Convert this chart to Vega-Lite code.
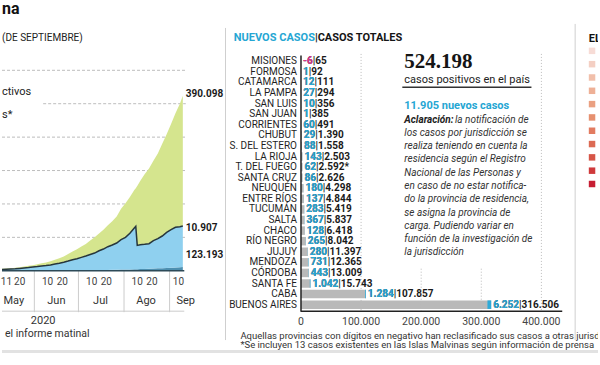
{
"$schema":"https://vega.github.io/schema/vega-lite/v6.json",
"width":600,"height":365,
"autosize":{"type":"fit","contains":"padding"},
"padding":0,
"background":"#ffffff",
"config":{"view":{"stroke":null},"text":{"font":"Roboto"}},
"datasets":{
"evolucion":[
{"fecha":"2020-05-10","fallecidos":305,"infectados":3795,"recuperados":1934},
{"fecha":"2020-05-13","fallecidos":329,"infectados":4271,"recuperados":2279},
{"fecha":"2020-05-16","fallecidos":356,"infectados":4844,"recuperados":2605},
{"fecha":"2020-05-19","fallecidos":382,"infectados":5518,"recuperados":2896},
{"fecha":"2020-05-22","fallecidos":416,"infectados":6584,"recuperados":3649},
{"fecha":"2020-05-25","fallecidos":467,"infectados":7833,"recuperados":4328},
{"fecha":"2020-05-28","fallecidos":500,"infectados":9000,"recuperados":5202},
{"fecha":"2020-05-31","fallecidos":528,"infectados":10472,"recuperados":5851},
{"fecha":"2020-06-03","fallecidos":583,"infectados":11917,"recuperados":6768},
{"fecha":"2020-06-06","fallecidos":664,"infectados":13836,"recuperados":8294},
{"fecha":"2020-06-09","fallecidos":717,"infectados":14783,"recuperados":9261},
{"fecha":"2020-06-12","fallecidos":785,"infectados":16715,"recuperados":11264},
{"fecha":"2020-06-15","fallecidos":854,"infectados":19146,"recuperados":12785},
{"fecha":"2020-06-18","fallecidos":913,"infectados":21587,"recuperados":15010},
{"fecha":"2020-06-21","fallecidos":1011,"infectados":24489,"recuperados":17285},
{"fecha":"2020-06-24","fallecidos":1116,"infectados":27884,"recuperados":20851},
{"fecha":"2020-06-27","fallecidos":1207,"infectados":31793,"recuperados":24744},
{"fecha":"2020-06-30","fallecidos":1307,"infectados":34693,"recuperados":28530},
{"fecha":"2020-07-03","fallecidos":1490,"infectados":38510,"recuperados":32786},
{"fecha":"2020-07-06","fallecidos":1600,"infectados":42400,"recuperados":36447},
{"fecha":"2020-07-09","fallecidos":1720,"infectados":46780,"recuperados":42193},
{"fecha":"2020-07-12","fallecidos":1859,"infectados":51141,"recuperados":47166},
{"fecha":"2020-07-15","fallecidos":2050,"infectados":57950,"recuperados":51160},
{"fecha":"2020-07-18","fallecidos":2246,"infectados":62754,"recuperados":57524},
{"fecha":"2020-07-21","fallecidos":2490,"infectados":69510,"recuperados":64118},
{"fecha":"2020-07-24","fallecidos":2702,"infectados":74298,"recuperados":71027},
{"fecha":"2020-07-27","fallecidos":2939,"infectados":80061,"recuperados":79526},
{"fecha":"2020-07-30","fallecidos":3441,"infectados":89559,"recuperados":92373},
{"fecha":"2020-08-02","fallecidos":3721,"infectados":96279,"recuperados":101919},
{"fecha":"2020-08-05","fallecidos":4106,"infectados":107894,"recuperados":108682},
{"fecha":"2020-08-08","fallecidos":4523,"infectados":123477,"recuperados":113811},
{"fecha":"2020-08-09","fallecidos":4606,"infectados":128394,"recuperados":114000},
{"fecha":"2020-08-10","fallecidos":4764,"infectados":71236,"recuperados":177868},
{"fecha":"2020-08-12","fallecidos":5213,"infectados":72787,"recuperados":190574},
{"fecha":"2020-08-15","fallecidos":5637,"infectados":73363,"recuperados":210100},
{"fecha":"2020-08-18","fallecidos":6048,"infectados":74952,"recuperados":224966},
{"fecha":"2020-08-21","fallecidos":6730,"infectados":83270,"recuperados":239043},
{"fecha":"2020-08-24","fallecidos":7366,"infectados":88634,"recuperados":254867},
{"fecha":"2020-08-27","fallecidos":7839,"infectados":96161,"recuperados":276292},
{"fecha":"2020-08-30","fallecidos":8457,"infectados":106543,"recuperados":293426},
{"fecha":"2020-09-02","fallecidos":9118,"infectados":113882,"recuperados":316172},
{"fecha":"2020-09-05","fallecidos":9739,"infectados":120261,"recuperados":341806},
{"fecha":"2020-09-08","fallecidos":10405,"infectados":121595,"recuperados":368034},
{"fecha":"2020-09-10","fallecidos":10907,"infectados":123193,"recuperados":390098}
],
"provincias":[
{"fila":0,"provincia":"MISIONES","nuevos":-6,"total":65,"previos":71,"nota":""},
{"fila":1,"provincia":"FORMOSA","nuevos":1,"total":92,"previos":91,"nota":""},
{"fila":2,"provincia":"CATAMARCA","nuevos":12,"total":111,"previos":99,"nota":""},
{"fila":3,"provincia":"LA PAMPA","nuevos":27,"total":294,"previos":267,"nota":""},
{"fila":4,"provincia":"SAN LUIS","nuevos":10,"total":356,"previos":346,"nota":""},
{"fila":5,"provincia":"SAN JUAN","nuevos":1,"total":385,"previos":384,"nota":""},
{"fila":6,"provincia":"CORRIENTES","nuevos":60,"total":491,"previos":431,"nota":""},
{"fila":7,"provincia":"CHUBUT","nuevos":29,"total":1390,"previos":1361,"nota":""},
{"fila":8,"provincia":"S. DEL ESTERO","nuevos":88,"total":1558,"previos":1470,"nota":""},
{"fila":9,"provincia":"LA RIOJA","nuevos":143,"total":2503,"previos":2360,"nota":""},
{"fila":10,"provincia":"T. DEL FUEGO","nuevos":62,"total":2592,"previos":2530,"nota":"*"},
{"fila":11,"provincia":"SANTA CRUZ","nuevos":86,"total":2626,"previos":2540,"nota":""},
{"fila":12,"provincia":"NEUQUÉN","nuevos":180,"total":4298,"previos":4118,"nota":""},
{"fila":13,"provincia":"ENTRE RÍOS","nuevos":137,"total":4844,"previos":4707,"nota":""},
{"fila":14,"provincia":"TUCUMÁN","nuevos":283,"total":5419,"previos":5136,"nota":""},
{"fila":15,"provincia":"SALTA","nuevos":367,"total":5837,"previos":5470,"nota":""},
{"fila":16,"provincia":"CHACO","nuevos":128,"total":6418,"previos":6290,"nota":""},
{"fila":17,"provincia":"RÍO NEGRO","nuevos":265,"total":8042,"previos":7777,"nota":""},
{"fila":18,"provincia":"JUJUY","nuevos":280,"total":11397,"previos":11117,"nota":""},
{"fila":19,"provincia":"MENDOZA","nuevos":731,"total":12365,"previos":11634,"nota":""},
{"fila":20,"provincia":"CÓRDOBA","nuevos":443,"total":13009,"previos":12566,"nota":""},
{"fila":21,"provincia":"SANTA FE","nuevos":1042,"total":15743,"previos":14701,"nota":""},
{"fila":22,"provincia":"CABA","nuevos":1284,"total":107857,"previos":106573,"nota":""},
{"fila":23,"provincia":"BUENOS AIRES","nuevos":6252,"total":316506,"previos":310254,"nota":""}
]
},
"resolve":{"scale":{"x":"independent","y":"independent","color":"independent"}},
"layer":[
{
"data":{"name":"evolucion"},
"layer":[
{"data":{"values":[{"v":100000},{"v":200000},{"v":300000},{"v":400000},{"v":600000}]},
 "mark":{"type":"rule","color":"#bdbdbd","strokeDash":[3,2],"strokeWidth":1},
 "encoding":{
  "x":{"datum":{"year":2020,"month":5,"date":10,"utc":true},"type":"temporal","scale":{"type":"utc","domain":[{"year":2020,"month":5,"date":10,"utc":true},{"year":2021,"month":6,"date":19,"hours":10,"utc":true}],"nice":false},"axis":null},
  "x2":{"datum":{"year":2020,"month":9,"date":12,"utc":true}},
  "y":{"field":"v","type":"quantitative","scale":{"domain":[-282090,807463],"nice":false,"zero":false},"axis":null}}},
{"data":{"values":[{"v":500000}]},
 "mark":{"type":"rule","color":"#bdbdbd","strokeDash":[3,2],"strokeWidth":1},
 "encoding":{
  "x":{"datum":{"year":2020,"month":6,"date":7,"utc":true},"type":"temporal","scale":{"type":"utc","domain":[{"year":2020,"month":5,"date":10,"utc":true},{"year":2021,"month":6,"date":19,"hours":10,"utc":true}],"nice":false},"axis":null},
  "x2":{"datum":{"year":2020,"month":9,"date":12,"utc":true}},
  "y":{"field":"v","type":"quantitative","scale":{"domain":[-282090,807463],"nice":false,"zero":false},"axis":null}}},
{"transform":[{"fold":["fallecidos","infectados","recuperados"],"as":["serie","casos"]}],
 "mark":{"type":"area","clip":true},
 "encoding":{
  "x":{"field":"fecha","type":"temporal","scale":{"type":"utc","domain":[{"year":2020,"month":5,"date":10,"utc":true},{"year":2021,"month":6,"date":19,"hours":10,"utc":true}],"nice":false},"axis":null},
  "y":{"field":"casos","type":"quantitative","stack":"zero","scale":{"domain":[-282090,807463],"nice":false,"zero":false},"axis":null},
  "color":{"field":"serie","type":"nominal","scale":{"domain":["fallecidos","infectados","recuperados"],"range":["#4d8fb0","#8fd0ef","#d5e58e"]},"legend":null},
  "order":{"field":"serie","sort":"ascending"}}},
{"transform":[{"fold":["fallecidos","infectados","recuperados"],"as":["serie","casos"]},{"filter":"datum.serie != 'recuperados'"},{"aggregate":[{"op":"sum","field":"casos","as":"tope"}],"groupby":["fecha"]}],
 "mark":{"type":"line","color":"#26363d","strokeWidth":1.5,"clip":true},
 "encoding":{
  "x":{"field":"fecha","type":"temporal","scale":{"type":"utc","domain":[{"year":2020,"month":5,"date":10,"utc":true},{"year":2021,"month":6,"date":19,"hours":10,"utc":true}],"nice":false},"axis":null},
  "y":{"field":"tope","type":"quantitative","scale":{"domain":[-282090,807463],"nice":false,"zero":false},"axis":null}}},
{"data":{"values":[{"fecha":"2020-06-01"},{"fecha":"2020-07-01"},{"fecha":"2020-08-01"},{"fecha":"2020-09-01"}]},
 "mark":{"type":"rule","color":"#cccccc","strokeWidth":1},
 "encoding":{
  "x":{"field":"fecha","type":"temporal","scale":{"type":"utc","domain":[{"year":2020,"month":5,"date":10,"utc":true},{"year":2021,"month":6,"date":19,"hours":10,"utc":true}],"nice":false},"axis":null},
  "y":{"datum":0,"type":"quantitative","scale":{"domain":[-282090,807463],"nice":false,"zero":false},"axis":null},
  "y2":{"datum":-124000}}},
{"data":{"values":[{"v":0}]},
 "mark":{"type":"rule","color":"#2d4a58","strokeWidth":1.5},
 "encoding":{
  "x":{"datum":{"year":2020,"month":5,"date":10,"utc":true},"type":"temporal","scale":{"type":"utc","domain":[{"year":2020,"month":5,"date":10,"utc":true},{"year":2021,"month":6,"date":19,"hours":10,"utc":true}],"nice":false},"axis":null},
  "x2":{"datum":{"year":2020,"month":9,"date":11,"utc":true}},
  "y":{"field":"v","type":"quantitative","scale":{"domain":[-282090,807463],"nice":false,"zero":false},"axis":null}}},
{"data":{"values":[{"v":-121000}]},
 "mark":{"type":"rule","color":"#cccccc","strokeWidth":1},
 "encoding":{
  "x":{"datum":{"year":2020,"month":5,"date":10,"utc":true},"type":"temporal","scale":{"type":"utc","domain":[{"year":2020,"month":5,"date":10,"utc":true},{"year":2021,"month":6,"date":19,"hours":10,"utc":true}],"nice":false},"axis":null},
  "x2":{"datum":{"year":2020,"month":9,"date":11,"utc":true}},
  "y":{"field":"v","type":"quantitative","scale":{"domain":[-282090,807463],"nice":false,"zero":false},"axis":null}}},
{"data":{"values":[{"fecha":"2020-05-13","t":"11"},{"fecha":"2020-05-22","t":"20"},{"fecha":"2020-06-10","t":"10"},{"fecha":"2020-06-20","t":"20"},{"fecha":"2020-07-10","t":"10"},{"fecha":"2020-07-20","t":"20"},{"fecha":"2020-08-10","t":"10"},{"fecha":"2020-08-20","t":"20"},{"fecha":"2020-09-07","t":"10"}]},
 "mark":{"type":"text","fontSize":10,"color":"#444444"},
 "encoding":{
  "x":{"field":"fecha","type":"temporal","scale":{"type":"utc","domain":[{"year":2020,"month":5,"date":10,"utc":true},{"year":2021,"month":6,"date":19,"hours":10,"utc":true}],"nice":false},"axis":null},
  "y":{"datum":-32836,"type":"quantitative","scale":{"domain":[-282090,807463],"nice":false,"zero":false},"axis":null},
  "text":{"field":"t"}}},
{"data":{"values":[{"fecha":"2020-05-18","t":"May"},{"fecha":"2020-06-16","t":"Jun"},{"fecha":"2020-07-16","t":"Jul"},{"fecha":"2020-08-16","t":"Ago"},{"fecha":"2020-09-12","t":"Sep"}]},
 "mark":{"type":"text","fontSize":11,"color":"#333333"},
 "encoding":{
  "x":{"field":"fecha","type":"temporal","scale":{"type":"utc","domain":[{"year":2020,"month":5,"date":10,"utc":true},{"year":2021,"month":6,"date":19,"hours":10,"utc":true}],"nice":false},"axis":null},
  "y":{"datum":-89552,"type":"quantitative","scale":{"domain":[-282090,807463],"nice":false,"zero":false},"axis":null},
  "text":{"field":"t"}}},
{"data":{"values":[{"t":"2020"}]},
 "mark":{"type":"text","fontSize":11,"color":"#333333"},
 "encoding":{
  "x":{"datum":{"year":2020,"month":6,"date":7,"utc":true},"type":"temporal","scale":{"type":"utc","domain":[{"year":2020,"month":5,"date":10,"utc":true},{"year":2021,"month":6,"date":19,"hours":10,"utc":true}],"nice":false},"axis":null},
  "y":{"datum":-150746,"type":"quantitative","scale":{"domain":[-282090,807463],"nice":false,"zero":false},"axis":null},
  "text":{"field":"t"}}},
{"data":{"values":[{"t":"el informe matinal"}]},
 "mark":{"type":"text","fontSize":10.5,"color":"#333333","align":"left"},
 "encoding":{
  "x":{"datum":{"year":2020,"month":5,"date":12,"utc":true},"type":"temporal","scale":{"type":"utc","domain":[{"year":2020,"month":5,"date":10,"utc":true},{"year":2021,"month":6,"date":19,"hours":10,"utc":true}],"nice":false},"axis":null},
  "y":{"datum":-189552,"type":"quantitative","scale":{"domain":[-282090,807463],"nice":false,"zero":false},"axis":null},
  "text":{"field":"t"}}},
{"data":{"values":[{"t":"na"}]},
 "mark":{"type":"text","fontSize":16,"fontWeight":"bold","color":"#111111","align":"left","baseline":"alphabetic"},
 "encoding":{
  "x":{"datum":{"year":2020,"month":5,"date":10,"utc":true},"type":"temporal","scale":{"type":"utc","domain":[{"year":2020,"month":5,"date":10,"utc":true},{"year":2021,"month":6,"date":19,"hours":10,"utc":true}],"nice":false},"axis":null},
  "y":{"datum":768700,"type":"quantitative","scale":{"domain":[-282090,807463],"nice":false,"zero":false},"axis":null},
  "text":{"field":"t"}}},
{"data":{"values":[{"t":"(DE SEPTIEMBRE)"}]},
 "mark":{"type":"text","fontSize":10,"color":"#222222","align":"left","baseline":"alphabetic"},
 "encoding":{
  "x":{"datum":{"year":2020,"month":5,"date":10,"utc":true},"type":"temporal","scale":{"type":"utc","domain":[{"year":2020,"month":5,"date":10,"utc":true},{"year":2021,"month":6,"date":19,"hours":10,"utc":true}],"nice":false},"axis":null},
  "y":{"datum":688060,"type":"quantitative","scale":{"domain":[-282090,807463],"nice":false,"zero":false},"axis":null},
  "text":{"field":"t"}}},
{"data":{"values":[{"t":"ctivos"}]},
 "mark":{"type":"text","fontSize":11,"color":"#222222","align":"left","baseline":"alphabetic"},
 "encoding":{
  "x":{"datum":{"year":2020,"month":5,"date":10,"utc":true},"type":"temporal","scale":{"type":"utc","domain":[{"year":2020,"month":5,"date":10,"utc":true},{"year":2021,"month":6,"date":19,"hours":10,"utc":true}],"nice":false},"axis":null},
  "y":{"datum":526866,"type":"quantitative","scale":{"domain":[-282090,807463],"nice":false,"zero":false},"axis":null},
  "text":{"field":"t"}}},
{"data":{"values":[{"t":"s*"}]},
 "mark":{"type":"text","fontSize":11,"color":"#222222","align":"left","baseline":"alphabetic"},
 "encoding":{
  "x":{"datum":{"year":2020,"month":5,"date":10,"utc":true},"type":"temporal","scale":{"type":"utc","domain":[{"year":2020,"month":5,"date":10,"utc":true},{"year":2021,"month":6,"date":19,"hours":10,"utc":true}],"nice":false},"axis":null},
  "y":{"datum":458209,"type":"quantitative","scale":{"domain":[-282090,807463],"nice":false,"zero":false},"axis":null},
  "text":{"field":"t"}}},
{"data":{"values":[{"t":"390.098"}]},
 "mark":{"type":"text","fontSize":10,"fontWeight":"bold","color":"#1a1a1a","align":"left","dx":3},
 "encoding":{
  "x":{"datum":{"year":2020,"month":9,"date":10,"utc":true},"type":"temporal","scale":{"type":"utc","domain":[{"year":2020,"month":5,"date":10,"utc":true},{"year":2021,"month":6,"date":19,"hours":10,"utc":true}],"nice":false},"axis":null},
  "y":{"datum":530000,"type":"quantitative","scale":{"domain":[-282090,807463],"nice":false,"zero":false},"axis":null},
  "text":{"field":"t"}}},
{"data":{"values":[{"t":"10.907"}]},
 "mark":{"type":"text","fontSize":10,"fontWeight":"bold","color":"#1a1a1a","align":"left","dx":3},
 "encoding":{
  "x":{"datum":{"year":2020,"month":9,"date":10,"utc":true},"type":"temporal","scale":{"type":"utc","domain":[{"year":2020,"month":5,"date":10,"utc":true},{"year":2021,"month":6,"date":19,"hours":10,"utc":true}],"nice":false},"axis":null},
  "y":{"datum":127000,"type":"quantitative","scale":{"domain":[-282090,807463],"nice":false,"zero":false},"axis":null},
  "text":{"field":"t"}}},
{"data":{"values":[{"t":"123.193"}]},
 "mark":{"type":"text","fontSize":10,"fontWeight":"bold","color":"#1a1a1a","align":"left","dx":3},
 "encoding":{
  "x":{"datum":{"year":2020,"month":9,"date":10,"utc":true},"type":"temporal","scale":{"type":"utc","domain":[{"year":2020,"month":5,"date":10,"utc":true},{"year":2021,"month":6,"date":19,"hours":10,"utc":true}],"nice":false},"axis":null},
  "y":{"datum":46000,"type":"quantitative","scale":{"domain":[-282090,807463],"nice":false,"zero":false},"axis":null},
  "text":{"field":"t"}}}
]
},
{
"data":{"name":"provincias"},
"layer":[
{"mark":{"type":"rule","color":"#b9b9b9","strokeWidth":8.5,"strokeCap":"butt"},
 "encoding":{
  "y":{"field":"fila","type":"quantitative","scale":{"domain":[-5.702,28.703],"reverse":true,"nice":false,"zero":false},"axis":null},
  "x":{"field":"total","type":"quantitative","scale":{"domain":[-497521,494215],"nice":false,"zero":false},"axis":null},
  "x2":{"datum":0}}},
{"mark":{"type":"rule","color":"#2eaad8","strokeWidth":8.5,"strokeCap":"butt"},
 "encoding":{
  "y":{"field":"fila","type":"quantitative","scale":{"domain":[-5.702,28.703],"reverse":true,"nice":false,"zero":false},"axis":null},
  "x":{"field":"previos","type":"quantitative","scale":{"domain":[-497521,494215],"nice":false,"zero":false},"axis":null},
  "x2":{"field":"total"}}},
{"mark":{"type":"text","align":"right","dx":-4,"font":"Liberation Sans Narrow, Roboto","fontSize":10,"color":"#1e1e1e"},
 "encoding":{
  "y":{"field":"fila","type":"quantitative","scale":{"domain":[-5.702,28.703],"reverse":true,"nice":false,"zero":false},"axis":null},
  "x":{"datum":0,"type":"quantitative","scale":{"domain":[-497521,494215],"nice":false,"zero":false},"axis":null},
  "text":{"field":"provincia"}}},
{"transform":[
  {"calculate":"abs(datum.nuevos) >= 1000 ? replace(format(datum.nuevos, ','), ',', '.') : '' + datum.nuevos","as":"txt_nuevos"},
  {"calculate":"(datum.total >= 1000 ? replace(format(datum.total, ','), ',', '.') : '' + datum.total) + datum.nota","as":"txt_total"},
  {"calculate":"datum.txt_nuevos + '|' + datum.txt_total","as":"etiqueta"}],
 "mark":{"type":"text","align":"left","dx":2,"fontWeight":"bold","fontSize":10,"color":"#1a1a1a"},
 "encoding":{
  "y":{"field":"fila","type":"quantitative","scale":{"domain":[-5.702,28.703],"reverse":true,"nice":false,"zero":false},"axis":null},
  "x":{"field":"total","type":"quantitative","scale":{"domain":[-497521,494215],"nice":false,"zero":false},"axis":null},
  "text":{"field":"etiqueta"}}},
{"transform":[
  {"calculate":"abs(datum.nuevos) >= 1000 ? replace(format(datum.nuevos, ','), ',', '.') : '' + datum.nuevos","as":"txt_nuevos"}],
 "mark":{"type":"text","align":"left","dx":2,"fontWeight":"bold","fontSize":10},
 "encoding":{
  "y":{"field":"fila","type":"quantitative","scale":{"domain":[-5.702,28.703],"reverse":true,"nice":false,"zero":false},"axis":null},
  "x":{"field":"total","type":"quantitative","scale":{"domain":[-497521,494215],"nice":false,"zero":false},"axis":null},
  "text":{"field":"txt_nuevos"},
  "color":{"condition":{"test":"datum.nuevos < 0","value":"#d9348f"},"value":"#2aa7d4"}}}
]
},
{
"data":{"values":[{"t":""}]},
"layer":[
{"data":{"values":[{"v":100000},{"v":400000}]},
 "mark":{"type":"rule","color":"#bbbbbb","strokeDash":[1,2],"strokeWidth":1},
 "encoding":{
  "x":{"field":"v","type":"quantitative","scale":{"domain":[-497521,494215],"nice":false,"zero":false},"axis":null},
  "y":{"datum":-0.7,"type":"quantitative","scale":{"domain":[-5.702,28.703],"reverse":true,"nice":false,"zero":false},"axis":null},
  "y2":{"datum":23.6}}},
{"data":{"values":[{"v":200000},{"v":300000}]},
 "mark":{"type":"rule","color":"#bbbbbb","strokeDash":[1,2],"strokeWidth":1},
 "encoding":{
  "x":{"field":"v","type":"quantitative","scale":{"domain":[-497521,494215],"nice":false,"zero":false},"axis":null},
  "y":{"datum":19.6,"type":"quantitative","scale":{"domain":[-5.702,28.703],"reverse":true,"nice":false,"zero":false},"axis":null},
  "y2":{"datum":23.6}}},
{"mark":{"type":"rule","color":"#222222","strokeWidth":1.5},
 "encoding":{
  "x":{"datum":0,"type":"quantitative","scale":{"domain":[-497521,494215],"nice":false,"zero":false},"axis":null},
  "y":{"datum":-0.55,"type":"quantitative","scale":{"domain":[-5.702,28.703],"reverse":true,"nice":false,"zero":false},"axis":null},
  "y2":{"datum":23.66}}},
{"mark":{"type":"rule","color":"#222222","strokeWidth":1.5},
 "encoding":{
  "x":{"datum":0,"type":"quantitative","scale":{"domain":[-497521,494215],"nice":false,"zero":false},"axis":null},
  "x2":{"datum":434700},
  "y":{"datum":23.62,"type":"quantitative","scale":{"domain":[-5.702,28.703],"reverse":true,"nice":false,"zero":false},"axis":null}}},
{"data":{"values":[{"v":0,"l":"0"},{"v":100000,"l":"100.000"},{"v":200000,"l":"200.000"},{"v":300000,"l":"300.000"},{"v":400000,"l":"400.000"}]},
 "mark":{"type":"text","fontSize":10.5,"color":"#444444"},
 "encoding":{
  "x":{"field":"v","type":"quantitative","scale":{"domain":[-497521,494215],"nice":false,"zero":false},"axis":null},
  "y":{"datum":24.65,"type":"quantitative","scale":{"domain":[-5.702,28.703],"reverse":true,"nice":false,"zero":false},"axis":null},
  "text":{"field":"l"}}},
{"data":{"values":[{"t":"NUEVOS CASOS"}]},
 "mark":{"type":"text","align":"right","fontSize":11,"fontWeight":"bold","color":"#25a6d3"},
 "encoding":{
  "x":{"datum":23140,"type":"quantitative","scale":{"domain":[-497521,494215],"nice":false,"zero":false},"axis":null},
  "y":{"datum":-2.214,"type":"quantitative","scale":{"domain":[-5.702,28.703],"reverse":true,"nice":false,"zero":false},"axis":null},
  "text":{"field":"t"}}},
{"data":{"values":[{"t":"|CASOS TOTALES"}]},
 "mark":{"type":"text","align":"left","fontSize":11,"fontWeight":"bold","color":"#151515"},
 "encoding":{
  "x":{"datum":23140,"type":"quantitative","scale":{"domain":[-497521,494215],"nice":false,"zero":false},"axis":null},
  "y":{"datum":-2.214,"type":"quantitative","scale":{"domain":[-5.702,28.703],"reverse":true,"nice":false,"zero":false},"axis":null},
  "text":{"field":"t"}}},
{"data":{"values":[{"t":"524.198"}]},
 "mark":{"type":"text","align":"left","baseline":"alphabetic","font":"Liberation Serif","fontSize":21,"fontWeight":"bold","color":"#151515"},
 "encoding":{
  "x":{"datum":171901,"type":"quantitative","scale":{"domain":[-497521,494215],"nice":false,"zero":false},"axis":null},
  "y":{"datum":0.614,"type":"quantitative","scale":{"domain":[-5.702,28.703],"reverse":true,"nice":false,"zero":false},"axis":null},
  "text":{"field":"t"}}},
{"data":{"values":[{"t":"casos positivos en el país"}]},
 "mark":{"type":"text","align":"left","baseline":"alphabetic","fontSize":11,"color":"#222222"},
 "encoding":{
  "x":{"datum":171901,"type":"quantitative","scale":{"domain":[-497521,494215],"nice":false,"zero":false},"axis":null},
  "y":{"datum":2.028,"type":"quantitative","scale":{"domain":[-5.702,28.703],"reverse":true,"nice":false,"zero":false},"axis":null},
  "text":{"field":"t"}}},
{"mark":{"type":"rule","color":"#333333","strokeWidth":1.5},
 "encoding":{
  "x":{"datum":168595,"type":"quantitative","scale":{"domain":[-497521,494215],"nice":false,"zero":false},"axis":null},
  "x2":{"datum":383471},
  "y":{"datum":2.452,"type":"quantitative","scale":{"domain":[-5.702,28.703],"reverse":true,"nice":false,"zero":false},"axis":null}}},
{"data":{"values":[{"t":"11.905 nuevos casos"}]},
 "mark":{"type":"text","align":"left","baseline":"alphabetic","fontSize":11,"fontWeight":"bold","color":"#25a6d3"},
 "encoding":{
  "x":{"datum":171901,"type":"quantitative","scale":{"domain":[-497521,494215],"nice":false,"zero":false},"axis":null},
  "y":{"datum":4.525,"type":"quantitative","scale":{"domain":[-5.702,28.703],"reverse":true,"nice":false,"zero":false},"axis":null},
  "text":{"field":"t"}}},
{"mark":{"type":"rule","color":"#cfcfcf","strokeWidth":1},
 "encoding":{
  "x":{"datum":-125620,"type":"quantitative","scale":{"domain":[-497521,494215],"nice":false,"zero":false},"axis":null},
  "y":{"datum":-3.154,"type":"quantitative","scale":{"domain":[-5.702,28.703],"reverse":true,"nice":false,"zero":false},"axis":null},
  "y2":{"datum":26.345}}},
{"mark":{"type":"rule","color":"#cfcfcf","strokeWidth":1},
 "encoding":{
  "x":{"datum":456198,"type":"quantitative","scale":{"domain":[-497521,494215],"nice":false,"zero":false},"axis":null},
  "y":{"datum":-3.534,"type":"quantitative","scale":{"domain":[-5.702,28.703],"reverse":true,"nice":false,"zero":false},"axis":null},
  "y2":{"datum":26.345}}},
{"mark":{"type":"rule","color":"#e2e2e2","strokeWidth":3},
 "encoding":{
  "x":{"datum":-497521,"type":"quantitative","scale":{"domain":[-497521,494215],"nice":false,"zero":false},"axis":null},
  "x2":{"datum":494215},
  "y":{"datum":27.43,"type":"quantitative","scale":{"domain":[-5.702,28.703],"reverse":true,"nice":false,"zero":false},"axis":null}}},
{"data":{"values":[{"t":"Aquellas provincias con dígitos en negativo han reclasificado sus casos a otras jurisdicciones"}]},
 "mark":{"type":"text","align":"left","font":"Liberation Sans Narrow, Roboto","fontSize":9.5,"color":"#333333","clip":true},
 "encoding":{
  "x":{"datum":-100826,"type":"quantitative","scale":{"domain":[-497521,494215],"nice":false,"zero":false},"axis":null},
  "y":{"datum":25.97,"type":"quantitative","scale":{"domain":[-5.702,28.703],"reverse":true,"nice":false,"zero":false},"axis":null},
  "text":{"field":"t"}}},
{"data":{"values":[{"t":"*Se incluyen 13 casos existentes en las Islas Malvinas según información de prensa"}]},
 "mark":{"type":"text","align":"left","font":"Liberation Sans Narrow, Roboto","fontSize":9.5,"color":"#333333","clip":true},
 "encoding":{
  "x":{"datum":-100826,"type":"quantitative","scale":{"domain":[-497521,494215],"nice":false,"zero":false},"axis":null},
  "y":{"datum":26.78,"type":"quantitative","scale":{"domain":[-5.702,28.703],"reverse":true,"nice":false,"zero":false},"axis":null},
  "text":{"field":"t"}}},
{"data":{"values":[{"t":"EL"}]},
 "mark":{"type":"text","align":"left","baseline":"alphabetic","fontSize":11,"fontWeight":"bold","color":"#111111","clip":true},
 "encoding":{
  "x":{"datum":478843,"type":"quantitative","scale":{"domain":[-497521,494215],"nice":false,"zero":false},"axis":null},
  "y":{"datum":-1.837,"type":"quantitative","scale":{"domain":[-5.702,28.703],"reverse":true,"nice":false,"zero":false},"axis":null},
  "text":{"field":"t"}}}
]
},
{
"data":{"values":[
{"linea":1,"texto":"los casos por jurisdicción se"},
{"linea":2,"texto":"realiza teniendo en cuenta la"},
{"linea":3,"texto":"residencia según el Registro"},
{"linea":4,"texto":"Nacional de las Personas y"},
{"linea":5,"texto":"en caso de no estar notifica-"},
{"linea":6,"texto":"do la provincia de residencia,"},
{"linea":7,"texto":"se asigna la provincia de"},
{"linea":8,"texto":"carga. Pudiendo variar en"},
{"linea":9,"texto":"función de la investigación de"},
{"linea":10,"texto":"la jurisdicción"}
]},
"layer":[
{"mark":{"type":"text","align":"left","baseline":"alphabetic","font":"Liberation Sans Narrow, Roboto","fontStyle":"italic","fontSize":10,"color":"#333333"},
 "encoding":{
  "x":{"datum":171901,"type":"quantitative","scale":{"domain":[-497521,494215],"nice":false,"zero":false},"axis":null},
  "y":{"field":"linea","type":"quantitative","scale":{"domain":[-9.173,18.271],"reverse":true,"nice":false,"zero":false},"axis":null},
  "text":{"field":"texto"}}},
{"data":{"values":[{"linea":0,"texto":"Aclaración:"}]},
 "mark":{"type":"text","align":"left","baseline":"alphabetic","font":"Liberation Sans Narrow, Roboto","fontStyle":"italic","fontWeight":"bold","fontSize":10,"color":"#222222"},
 "encoding":{
  "x":{"datum":171901,"type":"quantitative","scale":{"domain":[-497521,494215],"nice":false,"zero":false},"axis":null},
  "y":{"field":"linea","type":"quantitative","scale":{"domain":[-9.173,18.271],"reverse":true,"nice":false,"zero":false},"axis":null},
  "text":{"field":"texto"}}},
{"data":{"values":[{"linea":0,"texto":"la notificación de"}]},
 "mark":{"type":"text","align":"left","baseline":"alphabetic","font":"Liberation Sans Narrow, Roboto","fontStyle":"italic","fontSize":10,"color":"#333333"},
 "encoding":{
  "x":{"datum":256198,"type":"quantitative","scale":{"domain":[-497521,494215],"nice":false,"zero":false},"axis":null},
  "y":{"field":"linea","type":"quantitative","scale":{"domain":[-9.173,18.271],"reverse":true,"nice":false,"zero":false},"axis":null},
  "text":{"field":"texto"}}}
]
},
{
"data":{"values":[{"nivel":0},{"nivel":1},{"nivel":2},{"nivel":3},{"nivel":4},{"nivel":5},{"nivel":6},{"nivel":7},{"nivel":8},{"nivel":9},{"nivel":10}]},
"mark":{"type":"square","size":42,"opacity":1,"filled":true},
"encoding":{
  "x":{"datum":484298,"type":"quantitative","scale":{"domain":[-497521,494215],"nice":false,"zero":false},"axis":null},
  "y":{"field":"nivel","type":"quantitative","scale":{"domain":[-3.745,23.596],"reverse":true,"nice":false,"zero":false},"axis":null},
  "color":{"field":"nivel","type":"ordinal","scale":{"domain":[0,1,2,3,4,5,6,7,8,9,10],"range":["#f7dcd6","#f4cfc3","#f1bfaa","#eeb096","#eaa081","#e6906f","#e27b60","#dc6a53","#d65547","#cf3a3b","#c71e33"]},"legend":null}}
}
]
}
